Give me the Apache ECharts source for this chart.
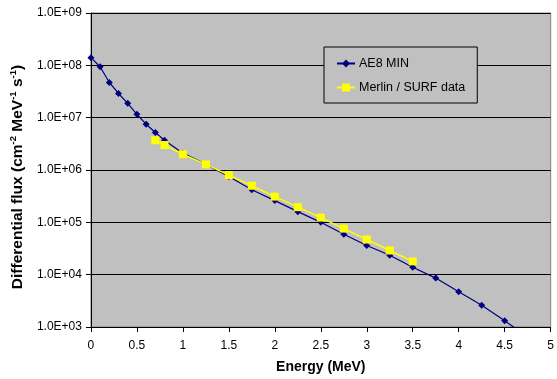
<!DOCTYPE html>
<html>
<head>
<meta charset="utf-8">
<script src="https://cdn.jsdelivr.net/npm/echarts@6/dist/echarts.min.js"></script>
<style>
  html, body { margin: 0; padding: 0; background: #fff; }
  #chart { width: 557px; height: 379px; }
</style>
</head>
<body>
<div id="chart"></div>
<script>
var ae8Energy = [0, 0.1, 0.2, 0.3, 0.4, 0.5, 0.6, 0.7, 0.8, 1.0, 1.25, 1.5, 1.75, 2.0, 2.25, 2.5, 2.75, 3.0, 3.25, 3.5, 3.75, 4.0, 4.25, 4.5, 4.75];
var ae8Flux = [1.4e8, 9.4e7, 4.7e7, 2.9e7, 1.88e7, 1.16e7, 7.5e6, 5.2e6, 3.7e6, 2.1e6, 1.28e6, 7.5e5, 4.2e5, 2.6e5, 1.6e5, 1.0e5, 5.9e4, 3.6e4, 2.35e4, 1.39e4, 8.6e3, 4.7e3, 2.6e3, 1.31e3, 6.5e2];

var surfEnergy = [0.7, 0.8, 1.0, 1.25, 1.5, 1.75, 2.0, 2.25, 2.5, 2.75, 3.0, 3.25, 3.5];
var surfFlux = [3.7e6, 3.0e6, 2.0e6, 1.28e6, 8.0e5, 5.0e5, 3.1e5, 1.95e5, 1.23e5, 7.6e4, 4.7e4, 2.9e4, 1.8e4];

function pairs(xs, ys) {
  var out = [];
  for (var i = 0; i < xs.length; i++) out.push([xs[i], ys[i]]);
  return out;
}

function sci(v) {
  var e = Math.round(Math.log10(v));
  var m = v / Math.pow(10, e);
  var s = e < 0 ? '-' : '+';
  var a = Math.abs(e);
  return m.toFixed(1) + 'E' + s + (a < 10 ? '0' + a : a);
}

var font = 'Liberation Sans, Arial, sans-serif';
var myChart = echarts.init(document.getElementById('chart'));
var option = {
  animation: false,
  textStyle: { fontFamily: font },
  grid: {
    left: 88, right: 3, top: 13, bottom: 49,
    show: true,
    backgroundColor: '#C0C0C0',
    borderColor: '#808080',
    borderWidth: 1
  },
  legend: {
    left: 324, top: 47,
    orient: 'vertical',
    padding: [10, 12, 9, 12],
    itemGap: 11,
    itemWidth: 18,
    itemHeight: 10,
    backgroundColor: '#C0C0C0',
    borderColor: '#000',
    borderWidth: 1,
    textStyle: { fontFamily: font, fontSize: 12.5, color: '#000', padding: [0, 0, 0, -1] },
    data: ['AE8 MIN', 'Merlin / SURF data']
  },
  xAxis: {
    type: 'value',
    min: 0, max: 5, interval: 0.5,
    name: 'Energy (MeV)',
    nameLocation: 'middle',
    nameGap: 33,
    nameTextStyle: { fontFamily: font, fontSize: 14, fontWeight: 'bold', color: '#000' },
    axisLine: { lineStyle: { color: '#000', width: 1 } },
    axisTick: { show: true, length: 5, lineStyle: { color: '#000' } },
    axisLabel: { color: '#000', fontSize: 12, margin: 13 },
    splitLine: { show: false }
  },
  yAxis: {
    type: 'log',
    logBase: 10,
    min: 1e3, max: 1e9,
    name: '{b|Differential flux (cm}{s|-2}{b| MeV}{s|-1}{b| s}{s|-1}{b|)}',
    nameLocation: 'middle',
    nameGap: 64,
    nameTextStyle: {
      padding: [0, 14, 0, 0],
      rich: {
        b: { fontFamily: font, fontSize: 15.5, fontWeight: 'bold', color: '#000', lineHeight: 18, verticalAlign: 'bottom' },
        s: { fontFamily: font, fontSize: 9.5, fontWeight: 'bold', color: '#000', lineHeight: 18, verticalAlign: 'top' }
      }
    },
    axisLine: { show: true, lineStyle: { color: '#000', width: 1 } },
    axisTick: { show: true, length: 5, lineStyle: { color: '#000' } },
    axisLabel: { color: '#000', fontSize: 12, margin: 9, formatter: sci },
    splitLine: { show: true, lineStyle: { color: '#000', width: 1 } },
    minorTick: { show: false }
  },
  series: [
    {
      name: 'AE8 MIN',
      type: 'line',
      data: pairs(ae8Energy, ae8Flux),
      symbol: 'diamond',
      symbolSize: 7,
      clip: true,
      lineStyle: { color: '#000080', width: 1.2 },
      itemStyle: { color: '#000080' },
      z: 2
    },
    {
      name: 'Merlin / SURF data',
      type: 'line',
      data: pairs(surfEnergy, surfFlux),
      symbol: 'rect',
      symbolSize: 8,
      lineStyle: { color: '#FFFF00', width: 1.5 },
      itemStyle: { color: '#FFFF00' },
      z: 3
    }
  ]
};
myChart.setOption(option);
</script>
</body>
</html>
